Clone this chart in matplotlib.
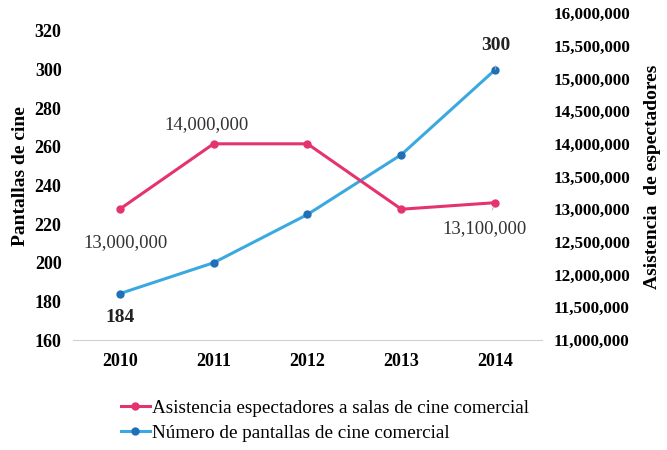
import numpy as np
import matplotlib
matplotlib.use('Agg')
from matplotlib import pyplot as plt

years = ['2010', '2011', '2012', '2013', '2014']
asistencia = [13000000, 14000000, 14000000, 13000000, 13100000]
pantallas = [184, 200, 225, 256, 300]

pink = '#E5336E'
blue = '#3BA9DF'
blue_mk = '#2070B8'

plt.rcParams['font.family'] = ['Liberation Serif', 'DejaVu Serif']

fig = plt.figure(figsize=(6.67, 4.5), dpi=100)
ax = fig.add_axes([0.109, 0.2444, 0.704, 0.7267])
ax2 = ax.twinx()

x = np.arange(len(years))

lb, = ax.plot(x, pantallas, color=blue, linewidth=2.2, marker='o', markersize=5,
              markerfacecolor=blue_mk, markeredgecolor=blue_mk, zorder=3)
lp, = ax2.plot(x, asistencia, color=pink, linewidth=2.2, marker='o', markersize=5,
               markerfacecolor=pink, markeredgecolor=pink, zorder=3)

ax.set_xlim(-0.5, 4.5)
ax.set_ylim(160, 329.3)
ax.set_yticks(np.arange(160, 321, 20))
ax2.set_ylim(11000000, 16000000)
ax2.set_yticks(np.arange(11000000, 16000001, 500000))
ax2.set_yticklabels(['{:,}'.format(v) for v in ax2.get_yticks().astype(int)])
ax.set_xticks(x)
ax.set_xticklabels(years)

for a in (ax, ax2):
    for s in a.spines.values():
        s.set_visible(False)
    a.tick_params(length=0, labelsize=13)
    for t in a.get_yticklabels() + a.get_xticklabels():
        t.set_fontweight('bold')
ax2.tick_params(axis='y', labelsize=12.3)
ax.spines['bottom'].set_visible(True)
ax.spines['bottom'].set_color('#D0D0D0')
ax.tick_params(axis='x', pad=9)
ax.tick_params(axis='y', pad=8)
ax2.tick_params(axis='y', pad=8)

ax.set_ylabel('Pantallas de cine', fontsize=14, fontweight='bold', labelpad=4)
ax2.set_ylabel('Asistencia  de espectadores', fontsize=14, fontweight='bold', labelpad=10)

# data labels
ax2.annotate('13,000,000', (x[0], asistencia[0]), xytext=(4, -24), textcoords='offset points',
             ha='center', va='center', fontsize=13.5, color='#333333')
ax2.annotate('14,000,000', (x[1], asistencia[1]), xytext=(-5, 14), textcoords='offset points',
             ha='center', va='center', fontsize=13.5, color='#333333')
ax2.annotate('13,100,000', (x[4], asistencia[4]), xytext=(-8, -19), textcoords='offset points',
             ha='center', va='center', fontsize=13.5, color='#333333',
             arrowprops=dict(arrowstyle='-', color='#AAAAAA', lw=0.6, shrinkA=6, shrinkB=3))
ax.annotate('184', (x[0], pantallas[0]), xytext=(0, -17), textcoords='offset points',
            ha='center', va='center', fontsize=14, fontweight='bold', color='#222222')
ax.annotate('300', (x[4], pantallas[4]), xytext=(0, 17), textcoords='offset points',
            ha='center', va='center', fontsize=14, fontweight='bold', color='#222222',
            arrowprops=dict(arrowstyle='-', color='#AAAAAA', lw=0.6, shrinkA=6, shrinkB=3))

fig.legend([lp, lb], ['Asistencia espectadores a salas de cine comercial',
                      'Número de pantallas de cine comercial'],
           loc='upper left', bbox_to_anchor=(0.17, 0.13), frameon=False, fontsize=13.8,
           handlelength=1.5, handletextpad=0.1, labelspacing=0.4, borderaxespad=0)

fig.savefig('out.png', dpi=100)
